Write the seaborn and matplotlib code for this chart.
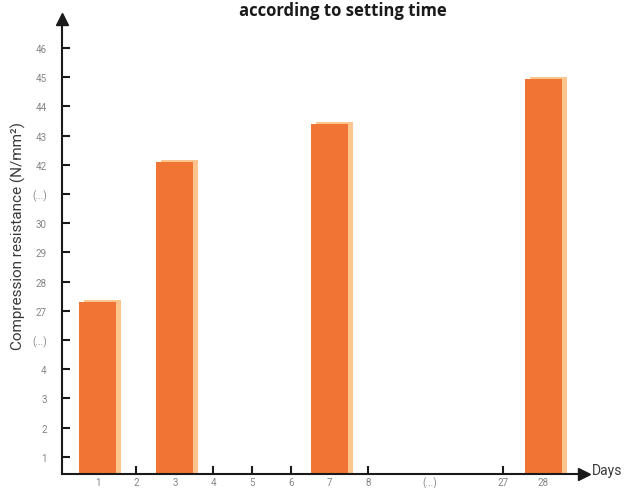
import numpy as np
import pandas as pd
import matplotlib
matplotlib.use("Agg")
import matplotlib.pyplot as plt
import matplotlib.transforms as mtransforms
import seaborn as sns

# ---- data ----
days = [1, 3, 7, 28]
strength = [27.3, 42.1, 43.4, 44.95]

x_tick_days = [1, 2, 3, 4, 5, 6, 7, 8, 27, 28]
x_tick_labels = ["1", "2", "3", "4", "5", "6", "7", "8", "27", "28"]
x_gap_label = "(...)"

y_tick_labels = ["1", "2", "3", "4", "(...)", "27", "28", "29", "30",
                 "(...)", "42", "43", "44", "45", "46"]
y_tick_values = [1, 2, 3, 4, 15.5, 27, 28, 29, 30, 36, 42, 43, 44, 45, 46]

title_text = "according to setting time"
y_label = "Compression resistance (N/mm²)"
x_label = "Days"

# ---- broken-axis scales ----
XP = [-10.0, 8.0, 27.0, 60.0]
XS = [-10.0, 8.0, 11.5, 11.5 + 33 * 1.05]
YP = [-10.0, 4.0, 27.0, 30.0, 42.0, 60.0]
YS = [-10.0, 4.0, 6.0, 9.0, 11.0, 29.0]


def xf(v):
    return np.interp(np.asarray(v, dtype=float), XP, XS)


def xi(s):
    return np.interp(np.asarray(s, dtype=float), XS, XP)


def yf(v):
    return np.interp(np.asarray(v, dtype=float), YP, YS)


def yi(s):
    return np.interp(np.asarray(s, dtype=float), YS, YP)


sns.set_theme(style="white")
narrow = ["Roboto", "DejaVu Sans"]
plt.rcParams["font.family"] = narrow

W, H, DPI = 624, 489, 100
fig = plt.figure(figsize=(W / DPI, H / DPI), dpi=DPI, facecolor="white")
L, R, T, B = 62, 584, 20, 475
ax = fig.add_axes([L / W, 1 - B / H, (R - L) / W, (B - T) / H])
ax.set_facecolor("white")
ax.set_xscale("function", functions=(xf, xi))
ax.set_yscale("function", functions=(yf, yi))

df = pd.DataFrame({"day": days, "strength": strength})
orange = "#F07535"
shadow = "#FBC58E"

sns.barplot(data=df, x="day", y="strength", native_scale=True, width=0.48,
            color=shadow, saturation=1, errorbar=None, ax=ax, zorder=1)
n_shadow = len(ax.patches)
off = mtransforms.ScaledTranslation(5 / DPI, 2 / DPI, fig.dpi_scale_trans)
for p in ax.patches[:n_shadow]:
    p.set_transform(ax.transData + off)
    p.set_linewidth(0)

sns.barplot(data=df, x="day", y="strength", native_scale=True, width=0.48,
            color=orange, saturation=1, errorbar=None, ax=ax, zorder=2)
for p in ax.patches[n_shadow:]:
    p.set_linewidth(0)

ax.set_xlim(xi(0.075), xi(13.6))
ax.set_ylim(yi((487 - B) / 29.2), yi((487 - T) / 29.2))

ax.set_xlabel("")
ax.set_ylabel("")

for s in ["top", "right"]:
    ax.spines[s].set_visible(False)
for s in ["left", "bottom"]:
    ax.spines[s].set_color("#1a1a1a")
    ax.spines[s].set_linewidth(1.5)
    ax.spines[s].set_zorder(5)

ax.set_yticks(y_tick_values, y_tick_labels)
ax.set_xticks(x_tick_days, x_tick_labels)
ax.set_xticks([xi(9.61)], [x_gap_label], minor=True)
ax.yaxis.set_minor_locator(matplotlib.ticker.NullLocator())

ax.tick_params(axis="y", which="major", direction="in", length=6, width=1.5,
               color="#1a1a1a", labelsize=7, labelcolor="#858585", pad=11,
               left=True)
ax.tick_params(axis="x", which="major", direction="in", length=6, width=1.5,
               color="#1a1a1a", labelsize=7, labelcolor="#858585", pad=2,
               bottom=True)
ax.tick_params(axis="x", which="minor", length=0, labelsize=7,
               labelcolor="#858585", pad=2)

# arrow heads on axes
ax.plot(0, 1, marker="^", markersize=9, color="#1a1a1a",
        transform=ax.transAxes, clip_on=False, zorder=6)
ax.plot(1, 0, marker=">", markersize=9, color="#1a1a1a",
        transform=ax.transAxes, clip_on=False, zorder=6)

fig.text(18 / W, 1 - 236 / H, y_label, rotation=90, ha="center", va="center",
         fontsize=11, color="#3a3a3a", family=narrow)
fig.text(592 / W, 1 - 471 / H, x_label, ha="left", va="center",
         fontsize=10, color="#3a3a3a", family=narrow)
fig.text(343 / W, 1 - 2 / H, title_text, ha="center", va="top",
         fontsize=12, fontweight="bold", color="#1a1a1a",
         family=["Open Sans", "DejaVu Sans"])

fig.savefig("out.png", dpi=DPI, facecolor="white")
